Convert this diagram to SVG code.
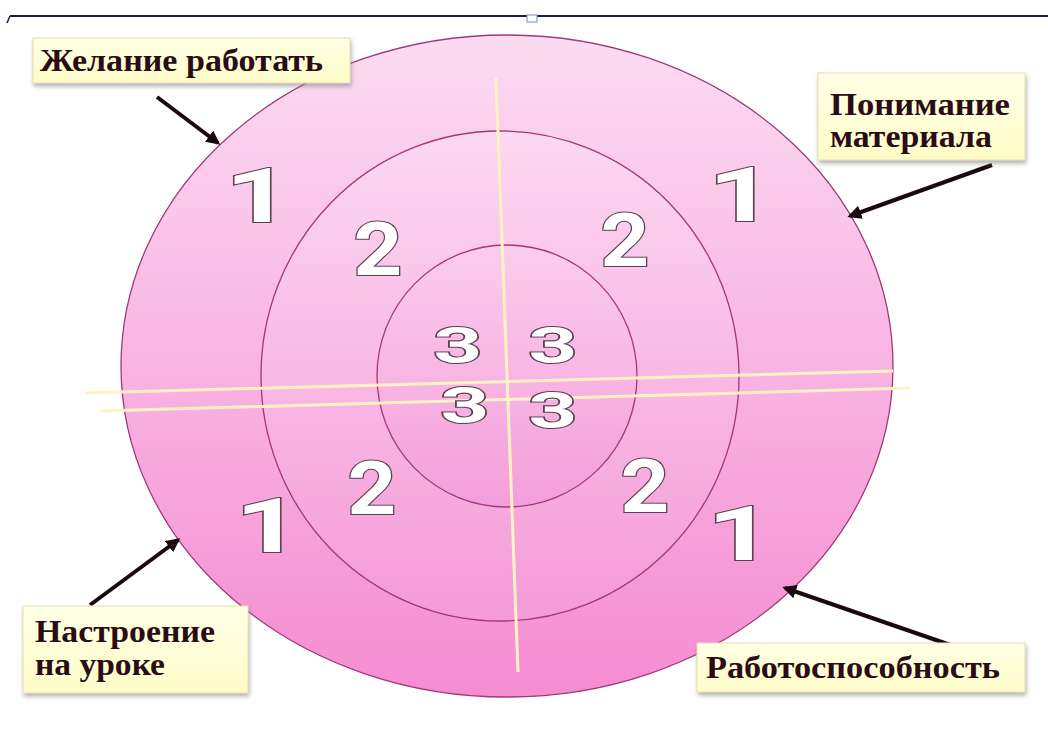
<svg xmlns="http://www.w3.org/2000/svg" width="1048" height="742" viewBox="0 0 1048 742">
<style>
.lbl{font-family:"Liberation Serif","Times New Roman",serif;font-weight:bold;font-size:31px;fill:#2a0c14}
.box{fill:url(#boxg);stroke:#e8e0b0;stroke-width:1;filter:url(#sh)}
.num{font-family:Roboto,"Liberation Sans",Arial,sans-serif;font-weight:bold;fill:#ffffff;stroke:#5a4050;stroke-width:2.2;paint-order:stroke;text-anchor:middle}
.ring{stroke:#a03878;stroke-width:1.3}
.cross{stroke:#fff3c4;stroke-width:3;fill:none}
.arr{stroke:#1a0a10;stroke-width:4;fill:none;marker-end:url(#ah)}
</style>
<defs>
<linearGradient id="g1" x1="0" y1="0" x2="0" y2="1">
<stop offset="0" stop-color="#fcdcf2"/><stop offset="1" stop-color="#f58cd2"/>
</linearGradient>
<linearGradient id="g2" x1="0" y1="0" x2="0" y2="1">
<stop offset="0" stop-color="#fcd8f1"/><stop offset="1" stop-color="#f59ad8"/>
</linearGradient>
<linearGradient id="g3" x1="0" y1="0" x2="0" y2="1">
<stop offset="0" stop-color="#fbcdec"/><stop offset="1" stop-color="#f49edb"/>
</linearGradient>
<linearGradient id="boxg" x1="0" y1="0" x2="0" y2="1">
<stop offset="0" stop-color="#ffffe6"/><stop offset="1" stop-color="#fffcc8"/>
</linearGradient>
<filter id="sh" x="-10%" y="-20%" width="120%" height="150%">
<feDropShadow dx="1" dy="3" stdDeviation="2" flood-color="#808080" flood-opacity="0.6"/>
</filter>
<marker id="ah" viewBox="0 0 10 10" refX="8" refY="5" markerWidth="3.5" markerHeight="3.5" orient="auto">
<path d="M0,0 L10,5 L0,10 z" fill="#1a0a10"/>
</marker>
</defs>
<rect width="1048" height="742" fill="#ffffff"/>
<g id="frame">
<line x1="10" y1="16" x2="1048" y2="16" stroke="#1a1a50" stroke-width="2"/>
<line x1="10" y1="16" x2="7" y2="23" stroke="#1a1a50" stroke-width="1.5"/>
<rect x="527" y="15" width="10" height="7" fill="#ffffff" stroke="#7090b0" stroke-width="1"/>
</g>
<g id="target">
<ellipse id="ring1" class="ring" cx="507" cy="366" rx="386" ry="331" fill="url(#g1)"/>
<ellipse id="ring2" class="ring" cx="500" cy="376" rx="239" ry="245" fill="url(#g2)"/>
<ellipse id="ring3" class="ring" cx="507" cy="376" rx="130" ry="131" fill="url(#g3)"/>
</g>
<g id="cross">
<line class="cross" x1="496" y1="78" x2="518" y2="672"/>
<line class="cross" x1="85" y1="393" x2="893" y2="371"/>
<line class="cross" x1="100" y1="411" x2="910" y2="388"/>
</g>
<g id="numbers">
<text class="num" transform="translate(258,222) scale(1.5,1)" font-size="76" stroke-width="1.8">1</text>
<text class="num" transform="translate(741,221) scale(1.5,1)" font-size="76" stroke-width="1.8">1</text>
<text class="num" transform="translate(268,552) scale(1.5,1)" font-size="76" stroke-width="1.8">1</text>
<text class="num" transform="translate(740,560) scale(1.5,1)" font-size="76" stroke-width="1.8">1</text>
<text class="num" transform="translate(378,275) scale(1.15,1)" font-size="74" stroke-width="2">2</text>
<text class="num" transform="translate(625,266) scale(1.15,1)" font-size="74" stroke-width="2">2</text>
<text class="num" transform="translate(372,514) scale(1.15,1)" font-size="74" stroke-width="2">2</text>
<text class="num" transform="translate(645,512) scale(1.15,1)" font-size="74" stroke-width="2">2</text>
<text class="num" transform="translate(458,363) scale(1.7,1)" font-size="50" stroke-width="1.5">3</text>
<text class="num" transform="translate(553,363) scale(1.7,1)" font-size="50" stroke-width="1.5">3</text>
<text class="num" transform="translate(465,423) scale(1.7,1)" font-size="50" stroke-width="1.5">3</text>
<text class="num" transform="translate(553,428) scale(1.7,1)" font-size="50" stroke-width="1.5">3</text>
</g>
<g id="connectors">
<line class="arr" x1="157" y1="97" x2="218" y2="143"/>
<line class="arr" x1="992" y1="165" x2="850" y2="216"/>
<line class="arr" x1="90" y1="605" x2="178" y2="540"/>
<line class="arr" x1="965" y1="650" x2="785" y2="588"/>
</g>
<g id="label-zhelanie">
<rect class="box" x="33" y="38" width="317" height="45"/>
<text class="lbl" x="40" y="71" textLength="283" lengthAdjust="spacingAndGlyphs">Желание работать</text>
</g>
<g id="label-ponimanie">
<rect class="box" x="818" y="73" width="207" height="87"/>
<text class="lbl" x="830" y="115" textLength="180" lengthAdjust="spacingAndGlyphs">Понимание</text>
<text class="lbl" x="830" y="147" textLength="162" lengthAdjust="spacingAndGlyphs">материала</text>
</g>
<g id="label-nastroenie">
<rect class="box" x="23" y="606" width="225" height="87"/>
<text class="lbl" x="35" y="642" textLength="180" lengthAdjust="spacingAndGlyphs">Настроение</text>
<text class="lbl" x="35" y="675" textLength="130" lengthAdjust="spacingAndGlyphs">на уроке</text>
</g>
<g id="label-rabotosposobnost">
<rect class="box" x="697" y="643" width="328" height="49"/>
<text class="lbl" x="706" y="678" textLength="294" lengthAdjust="spacingAndGlyphs">Работоспособность</text>
</g>
</svg>
